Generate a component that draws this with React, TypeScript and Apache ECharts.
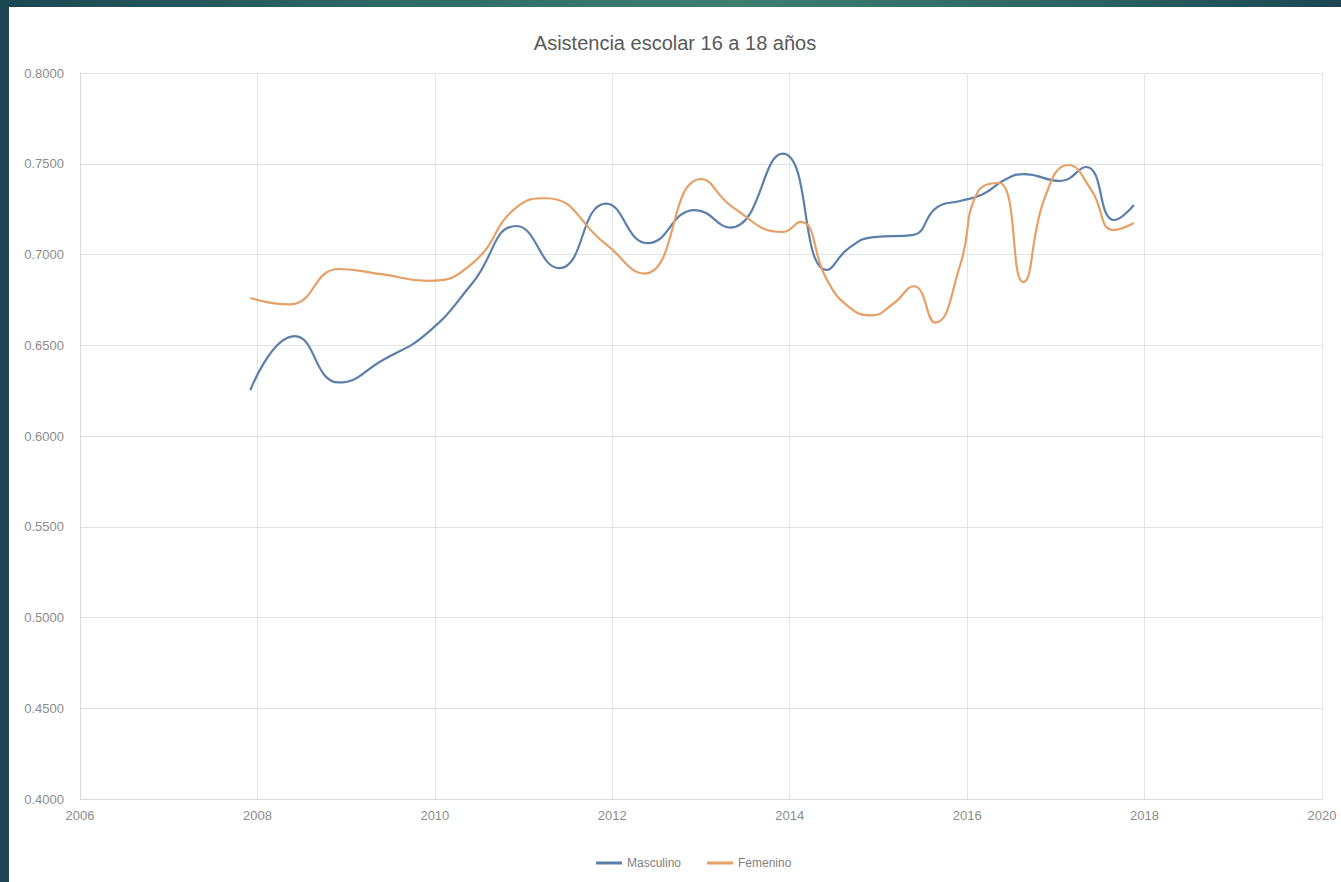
import React, { useEffect, useRef } from "react";
import * as echarts from "echarts";

const titleText = "Asistencia escolar 16 a 18 años";
const seriesNames = ["Masculino", "Femenino"];

// decimal-year dates and values
const masculinoX = [2007.92, 2008.42, 2008.92, 2009.42, 2009.92, 2010.42, 2010.92, 2011.4, 2011.93, 2012.4, 2012.93, 2013.33, 2013.92, 2014.42, 2014.67, 2014.95, 2015.38, 2015.66, 2015.92, 2016.17, 2016.42, 2016.64, 2017.05, 2017.34, 2017.66, 2017.88];
const masculinoY = [0.6253, 0.655, 0.6295, 0.642, 0.657, 0.684, 0.7157, 0.6925, 0.728, 0.7063, 0.7245, 0.7148, 0.7556, 0.6915, 0.7036, 0.7096, 0.7107, 0.726, 0.7295, 0.733, 0.741, 0.7443, 0.7405, 0.7482, 0.719, 0.7273];

const femeninoX = [2007.92, 2008.36, 2008.92, 2009.42, 2009.92, 2010.42, 2010.92, 2011.25, 2011.92, 2012.36, 2013.0, 2013.36, 2013.92, 2014.12, 2014.42, 2014.67, 2014.92, 2015.17, 2015.4, 2015.64, 2015.92, 2016.12, 2016.36, 2016.63, 2016.88, 2017.14, 2017.4, 2017.65, 2017.88];
const femeninoY = [0.676, 0.6725, 0.692, 0.689, 0.6855, 0.695, 0.726, 0.731, 0.706, 0.6895, 0.7416, 0.726, 0.7124, 0.718, 0.686, 0.671, 0.6665, 0.673, 0.6825, 0.6625, 0.694, 0.7345, 0.7394, 0.6848, 0.732, 0.7493, 0.7355, 0.7135, 0.7174];

const xMin = 2006;
const xMax = 2020;
const xStep = 2;
const yMin = 0.4;
const yMax = 0.8;
const yStep = 0.05;

const colors = ["#5b7fab", "#e6a066"];

export default function App() {
  const ref = useRef<HTMLDivElement>(null);

  useEffect(() => {
    if (!ref.current) return;
    const chart = echarts.init(ref.current, undefined, { renderer: "svg" });
    const font = "'Liberation Sans', Arial, sans-serif";
    const pair = (xs: number[], ys: number[]) => xs.map((x, i) => [x, ys[i]]);
    chart.setOption({
      animation: false,
      backgroundColor: "#ffffff",
      title: {
        text: titleText,
        left: "center",
        top: 21,
        textStyle: {
          color: "#595959",
          fontSize: 20,
          fontWeight: "normal",
          fontFamily: font,
        },
      },
      legend: {
        data: seriesNames,
        left: 582,
        top: 845,
        icon: "rect",
        itemWidth: 26,
        itemHeight: 3,
        itemGap: 26,
        textStyle: { color: "#7f7f7f", fontSize: 12, fontFamily: font },
      },
      grid: { left: 71, right: 19, top: 66, bottom: 83, containLabel: false },
      xAxis: {
        type: "value",
        min: xMin,
        max: xMax,
        interval: xStep,
        axisLine: { show: true, lineStyle: { color: "#d9d9d9" } },
        axisTick: { show: false },
        splitLine: { show: true, lineStyle: { color: "#e3e3e3" } },
        axisLabel: {
          color: "#8c8c8c",
          fontSize: 13,
          fontFamily: font,
          margin: 10,
          formatter: (v: number) => String(v),
        },
      },
      yAxis: {
        type: "value",
        min: yMin,
        max: yMax,
        interval: yStep,
        axisLine: { show: true, lineStyle: { color: "#d9d9d9" } },
        axisTick: { show: false },
        splitLine: { show: true, lineStyle: { color: "#e3e3e3" } },
        axisLabel: {
          color: "#8c8c8c",
          fontSize: 13,
          fontFamily: font,
          margin: 16,
          formatter: (v: number) => v.toFixed(4),
        },
      },
      series: [
        {
          name: seriesNames[0],
          type: "line",
          smooth: 0.5,
          showSymbol: false,
          data: pair(masculinoX, masculinoY),
          lineStyle: { color: colors[0], width: 2.2 },
          itemStyle: { color: colors[0] },
        },
        {
          name: seriesNames[1],
          type: "line",
          smooth: 0.5,
          showSymbol: false,
          data: pair(femeninoX, femeninoY),
          lineStyle: { color: colors[1], width: 2.2 },
          itemStyle: { color: colors[1] },
        },
      ],
    });
    return () => chart.dispose();
  }, []);

  return (
    <div
      style={{
        position: "fixed",
        left: 0,
        top: 0,
        width: 1341,
        height: 882,
        background: "#1b4652",
        overflow: "hidden",
      }}
    >
      <div
        style={{
          position: "absolute",
          left: 0,
          top: 0,
          width: 1341,
          height: 7,
          background: "linear-gradient(90deg, #1b4652 0%, #2f6a66 30%, #3f7e6f 55%, #2c6463 80%, #1b4652 100%)",
        }}
      />
      <div
        ref={ref}
        style={{ position: "absolute", left: 9, top: 7, width: 1332, height: 875 }}
      />
    </div>
  );
}
